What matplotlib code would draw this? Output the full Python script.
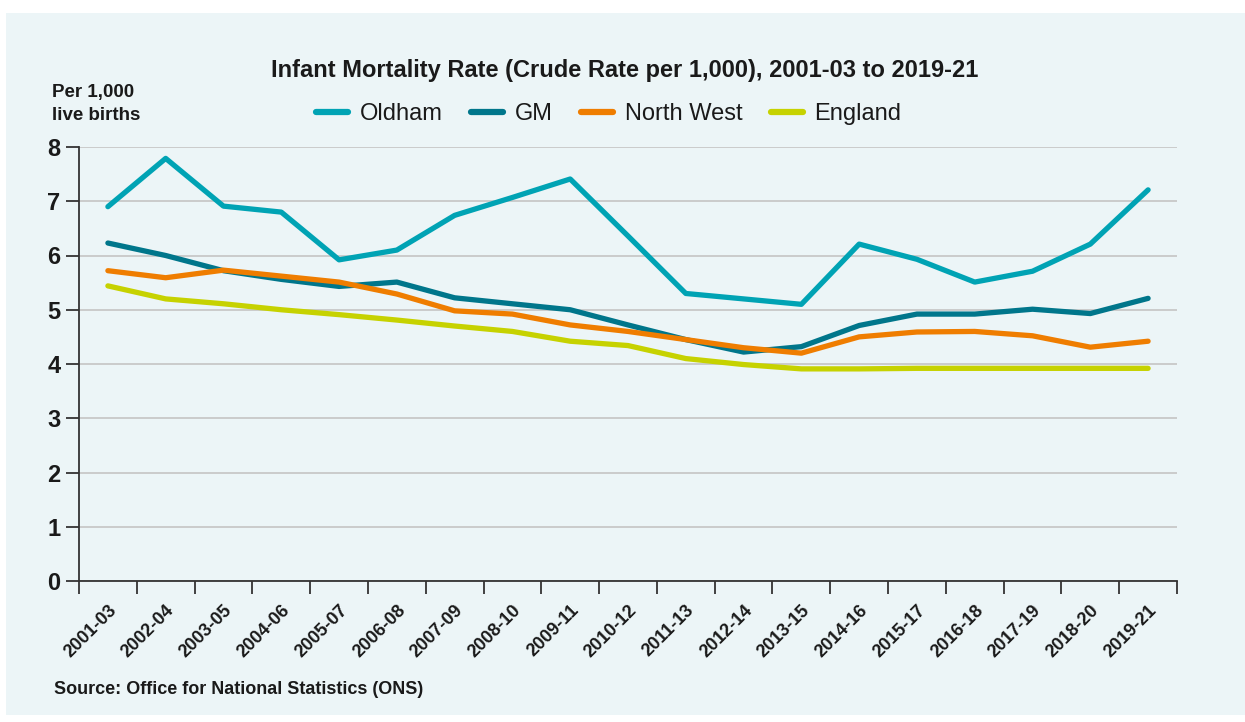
import matplotlib
matplotlib.use("Agg")
import matplotlib.pyplot as plt
from matplotlib.patches import Rectangle
import numpy as np

periods = ["2001-03", "2002-04", "2003-05", "2004-06", "2005-07", "2006-08",
           "2007-09", "2008-10", "2009-11", "2010-12", "2011-13", "2012-14",
           "2013-15", "2014-16", "2015-17", "2016-18", "2017-19", "2018-20",
           "2019-21"]
oldham = [6.9, 7.79, 6.91, 6.8, 5.92, 6.1, 6.74, 7.07, 7.41, 6.36, 5.3, 5.2,
          5.1, 6.21, 5.93, 5.51, 5.71, 6.21, 7.21]
gm = [6.23, 6.0, 5.72, 5.56, 5.43, 5.51, 5.22, 5.11, 5.0, 4.72, 4.45, 4.22,
      4.32, 4.71, 4.92, 4.92, 5.01, 4.93, 5.21]
north_west = [5.72, 5.59, 5.73, 5.62, 5.51, 5.29, 4.98, 4.92, 4.72, 4.6, 4.45,
              4.3, 4.2, 4.5, 4.59, 4.6, 4.52, 4.31, 4.42]
england = [5.44, 5.2, 5.11, 5.0, 4.91, 4.81, 4.7, 4.6, 4.42, 4.34, 4.1, 3.99,
           3.91, 3.91, 3.92, 3.92, 3.92, 3.92, 3.92]
series_names = ["Oldham", "GM", "North West", "England"]
yticks = [0, 1, 2, 3, 4, 5, 6, 7, 8]

colors = {"Oldham": "#00A3B4", "GM": "#00768B",
          "North West": "#EF7D00", "England": "#C6D200"}
zorders = {"Oldham": 5, "GM": 3, "North West": 4, "England": 2}
series = {"Oldham": oldham, "GM": gm, "North West": north_west,
          "England": england}

plt.rcParams['font.family'] = ['Liberation Sans', 'DejaVu Sans']

W, H = 1245, 722
fig = plt.figure(figsize=(W / 100, H / 100), dpi=100)
fig.patch.set_facecolor("white")
bg = "#ECF5F7"
panel = Rectangle((6 / W, 1 - 715 / H), (W - 6) / W, (715 - 13) / H,
                  transform=fig.transFigure, facecolor=bg,
                  edgecolor="none", zorder=-10)
fig.add_artist(panel)

left, right = 79 / W, 1177 / W
bottom, top = 1 - 581 / H, 1 - 147 / H
ax = fig.add_axes([left, bottom, right - left, top - bottom])
ax.set_zorder(1)
ax.set_facecolor("none")

x = np.arange(len(periods))
handles = []
for name in series_names:
    (ln,) = ax.plot(x, series[name], color=colors[name], lw=3.8,
                    solid_capstyle="round", solid_joinstyle="round",
                    zorder=zorders[name], label=name)
    handles.append(ln)

ax.set_xlim(-0.5, len(periods) - 0.5)
ax.set_ylim(0, 8)
ax.set_yticks(yticks)
ax.set_yticklabels([str(v) for v in yticks], fontsize=17, fontweight="bold",
                   color="#1a1a1a")
ax.tick_params(axis="y", length=9.5, width=1.3, color="#333333", pad=4)
ax.yaxis.grid(True, color="#C8C8C8", lw=1.3, zorder=0)
ax.set_axisbelow(True)

ax.set_xticks(x)
ax.set_xticklabels(periods, rotation=45, ha="right", rotation_mode="anchor",
                   fontsize=13, fontweight="bold", color="#1a1a1a")
ax.set_xticks(np.arange(-0.5, len(periods)), minor=True)
ax.tick_params(axis="x", which="major", length=0, pad=15)
ax.tick_params(axis="x", which="minor", length=9.5, width=1.3, color="#333333")

for s in ["top", "right"]:
    ax.spines[s].set_visible(False)
for s in ["left", "bottom"]:
    ax.spines[s].set_color("#333333")
    ax.spines[s].set_linewidth(1.3)

fig.text(625 / W, 1 - 70 / H,
         "Infant Mortality Rate (Crude Rate per 1,000), 2001-03 to 2019-21",
         ha="center", va="center", fontsize=17, fontweight="bold",
         color="#1a1a1a")
fig.text(52 / W, 1 - 92 / H, "Per 1,000", ha="left", va="center",
         fontsize=13.5, fontweight="bold", color="#1a1a1a")
fig.text(52 / W, 1 - 115 / H, "live births", ha="left", va="center",
         fontsize=13.5, fontweight="bold", color="#1a1a1a")
fig.text(54 / W, 1 - 689 / H, "Source: Office for National Statistics (ONS)",
         ha="left", va="center", fontsize=13, fontweight="bold",
         color="#1a1a1a")

leg = fig.legend(handles=handles, labels=series_names, loc="center",
                 bbox_to_anchor=(609 / W, 1 - 114 / H), ncol=4, frameon=False,
                 fontsize=17, handlelength=1.35, handletextpad=0.5,
                 columnspacing=1.2, borderpad=0, borderaxespad=0)
for t in leg.get_texts():
    t.set_color("#1a1a1a")
for lh in leg.get_lines():
    lh.set_linewidth(4.5)
    lh.set_solid_capstyle("round")

fig.savefig("out.png", dpi=100, facecolor=fig.get_facecolor())
